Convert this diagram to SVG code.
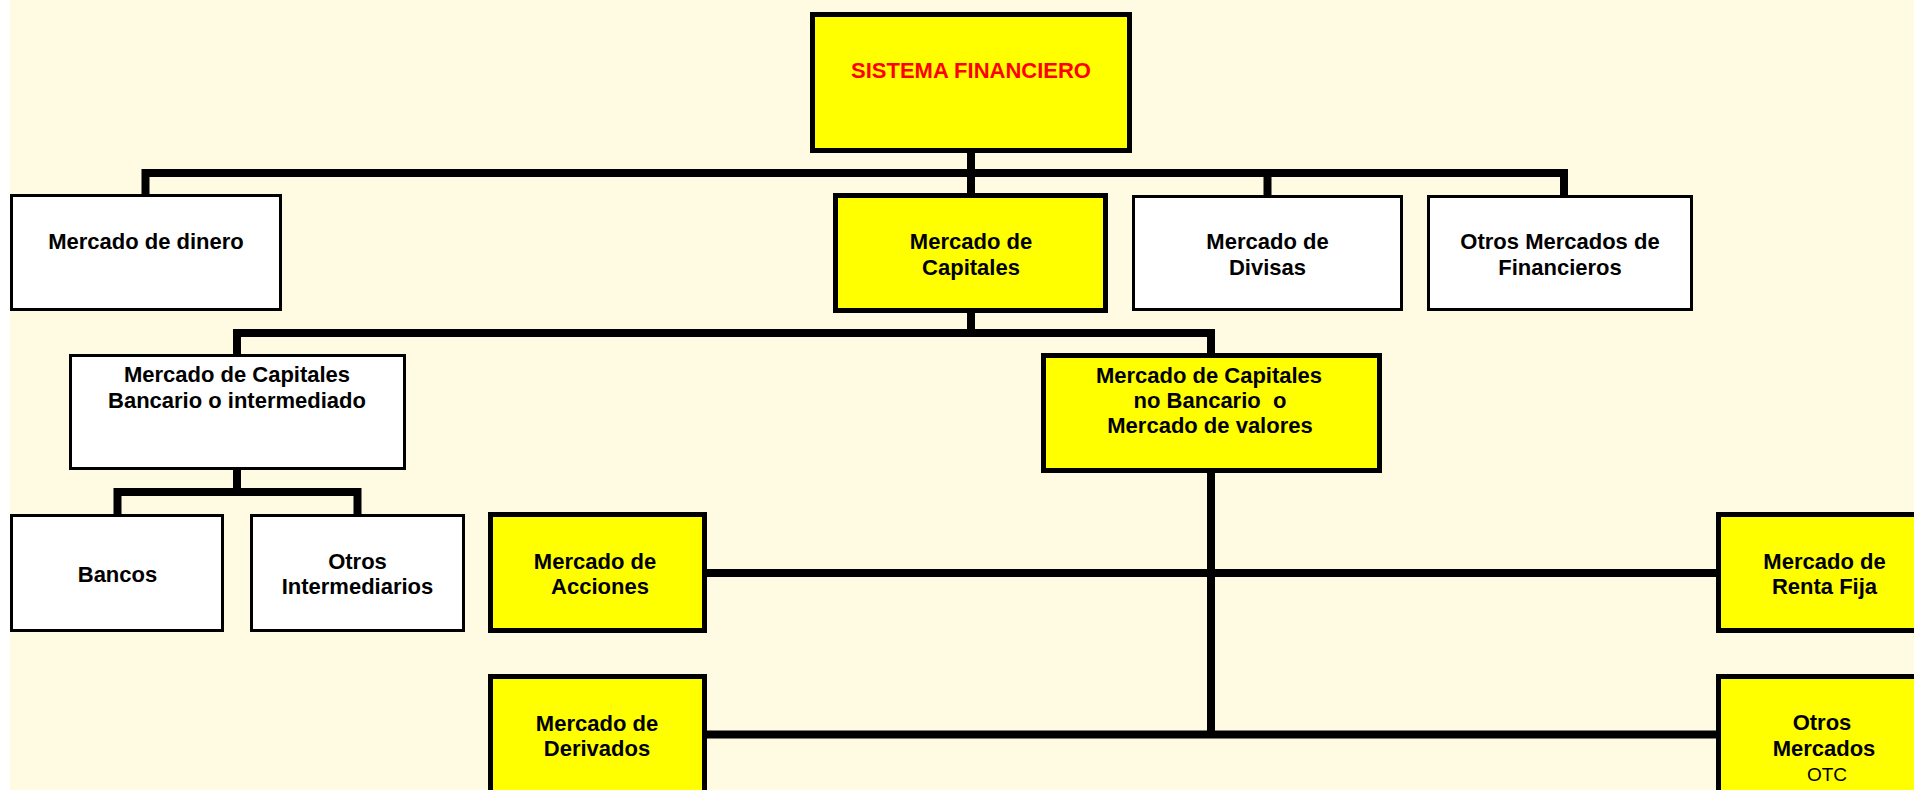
<svg xmlns="http://www.w3.org/2000/svg" width="1914" height="790" viewBox="0 0 1914 790">
<style>
.w{fill:#FFFFFF;stroke:#000;stroke-width:3}
.y{fill:#FFFF00;stroke:#000;stroke-width:5}
.t{font-family:"Liberation Sans",Arial,sans-serif;font-weight:bold;font-size:22px;fill:#000;text-anchor:middle;white-space:pre}
.r{font-family:"Liberation Sans",Arial,sans-serif;font-size:19px;fill:#000;text-anchor:middle}
.c{fill:none;stroke:#000;stroke-width:8;stroke-linejoin:miter}
</style>
<rect x="0" y="0" width="1914" height="790" fill="#FFFFFF"/>
<rect x="10" y="0" width="1904" height="790" fill="#FEFBE2"/>
<g id="connectors">
<path class="c" d="M971 153 V195"/>
<path class="c" d="M145.5 195 V173 H1564 V195"/>
<path class="c" d="M1267.5 173 V195"/>
<path class="c" d="M971 312 V333"/>
<path class="c" d="M237 355 V333 H1211 V354"/>
<path class="c" d="M237 470 V492"/>
<path class="c" d="M117.5 514 V492 H357.5 V514"/>
<path class="c" d="M1211 472 V735"/>
<path class="c" d="M706 573 H1717"/>
<path class="c" d="M706 734.5 H1717"/>
</g>
<g id="sistema">
<rect class="y" x="812.5" y="14.5" width="317" height="136"/>
<text class="t" x="971" y="78" style="fill:#FF0000">SISTEMA FINANCIERO</text>
</g>
<g id="dinero">
<rect class="w" x="11.5" y="195.5" width="269" height="114"/>
<text class="t" x="146" y="249">Mercado de dinero</text>
</g>
<g id="capitales">
<rect class="y" x="835.5" y="195.5" width="270" height="115"/>
<text class="t" x="971" y="249">Mercado de</text>
<text class="t" x="971" y="275">Capitales</text>
</g>
<g id="divisas">
<rect class="w" x="1133.5" y="196.5" width="268" height="113"/>
<text class="t" x="1267.5" y="249">Mercado de</text>
<text class="t" x="1267.5" y="275">Divisas</text>
</g>
<g id="otrosfin">
<rect class="w" x="1428.5" y="196.5" width="263" height="113"/>
<text class="t" x="1560" y="249">Otros Mercados de</text>
<text class="t" x="1560" y="275">Financieros</text>
</g>
<g id="bancario">
<rect class="w" x="70.5" y="355.5" width="334" height="113"/>
<text class="t" x="237" y="382">Mercado de Capitales</text>
<text class="t" x="237" y="408">Bancario o intermediado</text>
</g>
<g id="nobancario">
<rect class="y" x="1043.5" y="355.5" width="336" height="115"/>
<text class="t" x="1209" y="383">Mercado de Capitales</text>
<text class="t" x="1210" y="408" xml:space="preserve">no Bancario  o</text>
<text class="t" x="1210" y="433">Mercado de valores</text>
</g>
<g id="bancos">
<rect class="w" x="11.5" y="515.5" width="211" height="115"/>
<text class="t" x="117.5" y="582">Bancos</text>
</g>
<g id="otrosint">
<rect class="w" x="251.5" y="515.5" width="212" height="115"/>
<text class="t" x="357.5" y="569">Otros</text>
<text class="t" x="357.5" y="594">Intermediarios</text>
</g>
<g id="acciones">
<rect class="y" x="490.5" y="514.5" width="214" height="116"/>
<text class="t" x="595" y="569">Mercado de</text>
<text class="t" x="600" y="594">Acciones</text>
</g>
<g id="rentafija">
<rect class="y" x="1718.5" y="514.5" width="214" height="116"/>
<text class="t" x="1824.5" y="569">Mercado de</text>
<text class="t" x="1824.5" y="594">Renta Fija</text>
</g>
<g id="derivados">
<rect class="y" x="490.5" y="676.5" width="214" height="116"/>
<text class="t" x="597" y="731">Mercado de</text>
<text class="t" x="597" y="756">Derivados</text>
</g>
<g id="otrosotc">
<rect class="y" x="1718.5" y="676.5" width="214" height="116"/>
<text class="t" x="1822" y="730">Otros</text>
<text class="t" x="1824" y="756">Mercados</text>
<text class="r" x="1827" y="781">OTC</text>
</g>
</svg>
